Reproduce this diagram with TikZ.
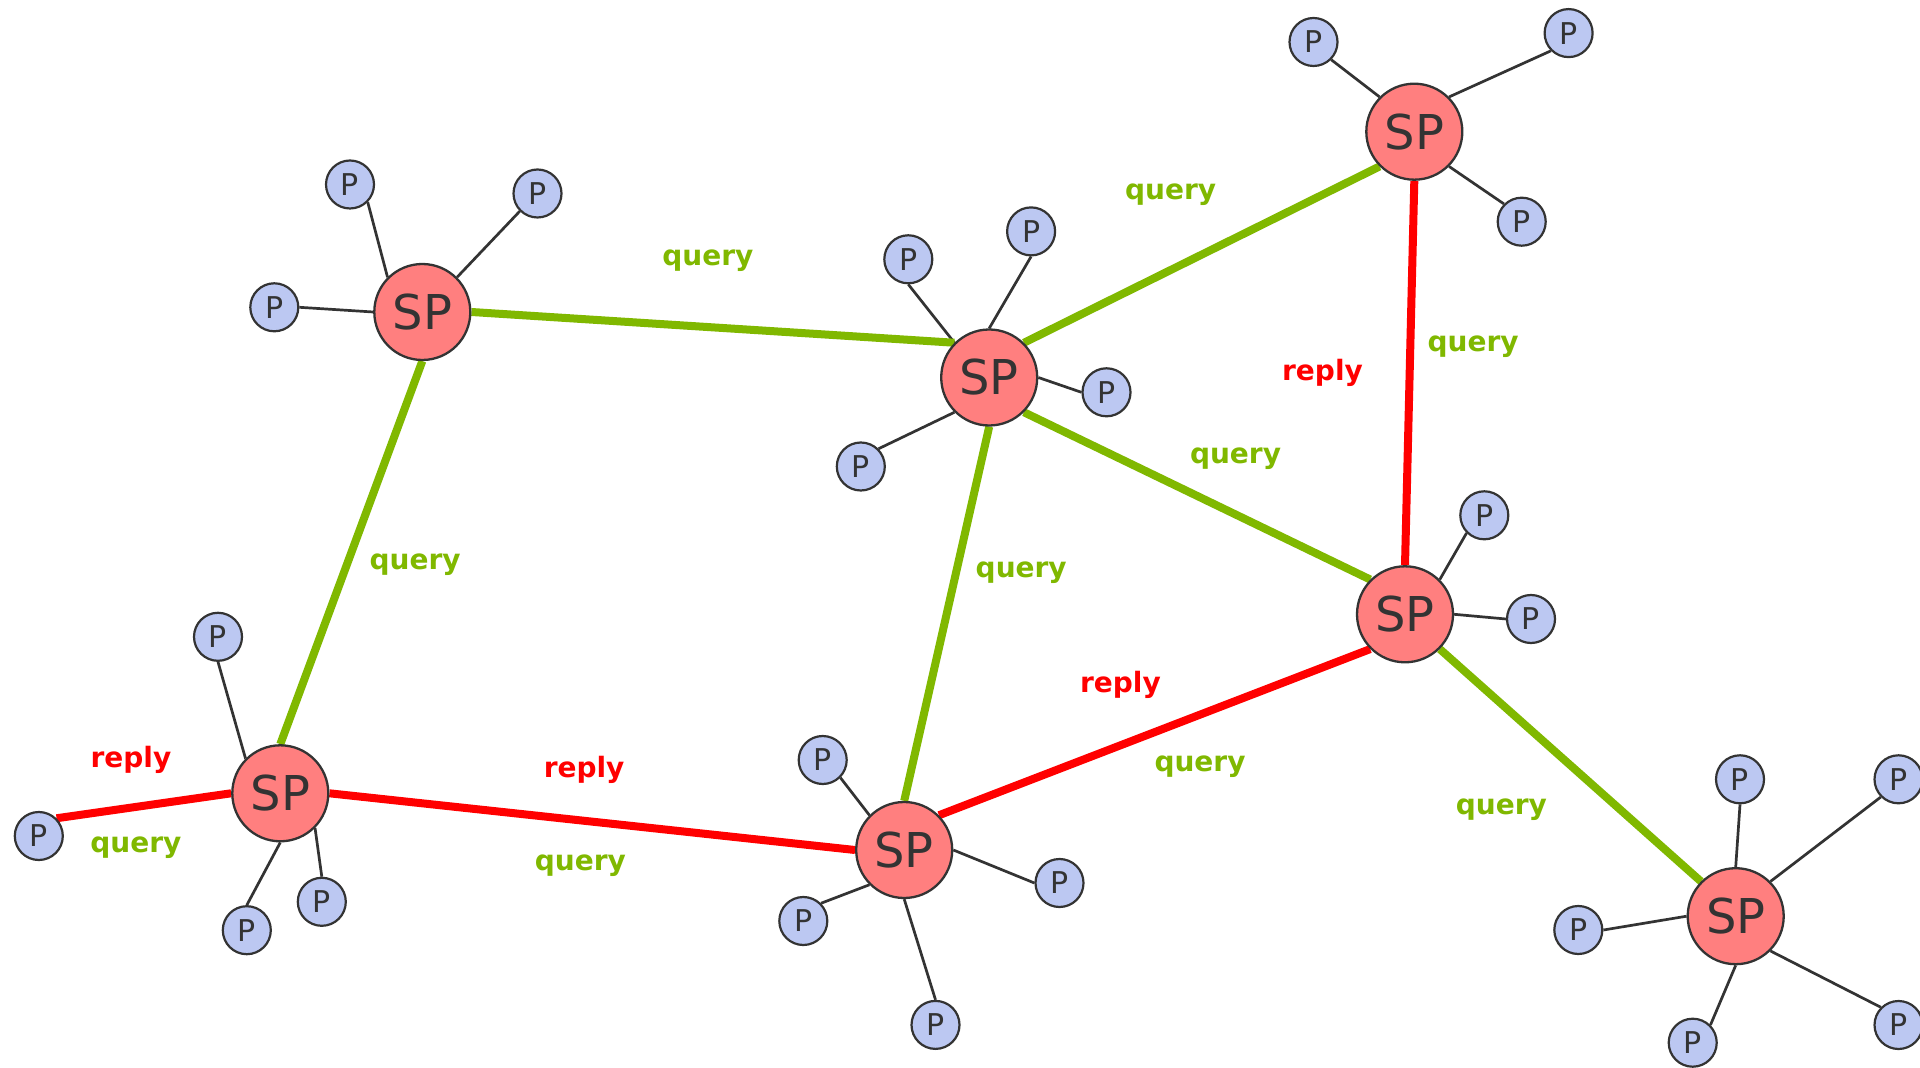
\documentclass[tikz,border=0pt]{standalone}
\usepackage{fontspec}
\setmainfont{DejaVu Sans}
\usetikzlibrary{backgrounds}
\definecolor{spfill}{HTML}{FF7F7F}
\definecolor{pfill}{HTML}{BCC8F2}
\definecolor{ink}{HTML}{333333}
\definecolor{qgreen}{HTML}{80B800}
\definecolor{rred}{HTML}{FF0000}
\tikzset{
  sp/.style={circle, draw=ink, line width=1.15pt, fill=spfill, minimum size=48pt, inner sep=0pt,
    text=ink, font=\fontsize{24}{28}\selectfont},
  peer/.style={circle, draw=ink, line width=1.1pt, fill=pfill, minimum size=24pt, inner sep=0pt,
    text=ink, font=\fontsize{15}{18}\selectfont},
  spoke/.style={draw=ink, line width=1.35pt},
  qline/.style={draw=qgreen, line width=4pt},
  rline/.style={draw=rred, line width=4pt},
  qlab/.style={text=qgreen, font=\bfseries\fontsize{14}{16}\selectfont},
  rlab/.style={text=rred, font=\bfseries\fontsize{14}{16}\selectfont}
}
\begin{document}
\begin{tikzpicture}[x=0.5pt, y=-0.5pt]
\path[use as bounding box] (0,0) rectangle (1920,1068);

% super peers
\node[sp] (s1) at (422.3,312) {SP};
\node[sp] (s2) at (989.2,377.5) {SP};
\node[sp] (s3) at (1414.3,131.7) {SP};
\node[sp] (s4) at (1405,614.3) {SP};
\node[sp] (s5) at (280.3,793.3) {SP};
\node[sp] (s6) at (904.2,850) {SP};
\node[sp] (s7) at (1735.7,916.2) {SP};

% peers
\node[peer] (p11) at (350,184.5) {P};
\node[peer] (p12) at (537.5,193.5) {P};
\node[peer] (p13) at (274.3,307.3) {P};
\node[peer] (p21) at (908.3,259.3) {P};
\node[peer] (p22) at (1031.1,231.4) {P};
\node[peer] (p23) at (1106.5,392.3) {P};
\node[peer] (p24) at (860.8,466.5) {P};
\node[peer] (p31) at (1313.5,42) {P};
\node[peer] (p32) at (1568.6,33.1) {P};
\node[peer] (p33) at (1521.7,221.7) {P};
\node[peer] (p41) at (1484.3,515.3) {P};
\node[peer] (p42) at (1531,619) {P};
\node[peer] (p51) at (218,636.8) {P};
\node[peer] (p52) at (38.8,836) {P};
\node[peer] (p53) at (246.8,930.2) {P};
\node[peer] (p54) at (321.8,901.8) {P};
\node[peer] (p61) at (822.7,760) {P};
\node[peer] (p62) at (1059.5,883) {P};
\node[peer] (p63) at (803.3,921) {P};
\node[peer] (p64) at (935.5,1024.9) {P};
\node[peer] (p71) at (1740,779.3) {P};
\node[peer] (p72) at (1898.5,779.3) {P};
\node[peer] (p73) at (1578.3,930) {P};
\node[peer] (p74) at (1692.7,1042.7) {P};
\node[peer] (p75) at (1898.5,1025) {P};

\begin{pgfonlayer}{background}
\fill[white] (0,0) rectangle (1920,1068);

% peer links
\foreach \a/\b in {s1.north west/p11.south east, s1.north east/p12.south west, s1.west/p13.east,
    s2.north west/p21.south, s2.north/p22.south, s2.east/p23.west, s2.south west/p24.north east,
    s3.north west/p31.south east, s3.north east/p32.south west, s3.south east/p33.north west,
    s4.north east/p41.south west, s4.east/p42.west,
    s5.north west/p51.south, s5.south/p53.north, s5.south east/p54.north,
    s6.north west/p61.south east, s6.east/p62.west, s6.south west/p63.north east, s6.south/p64.north,
    s7.north/p71.south, s7.north east/p72.south west, s7.west/p73.east,
    s7.south/p74.north east, s7.south east/p75.north west}
  \draw[spoke] (\a) -- (\b);

% query paths
\draw[qline] (s1.east) -- (s2.north west);
\draw[qline] (s1.south) -- (s5.north);
\draw[qline] (s2.north east) -- (s3.south west);
\draw[qline] (s2.south east) -- (s4.north west);
\draw[qline] (s2.south) -- (s6.north);
\draw[qline] (s4.south east) -- (s7.north west);

% reply paths
\draw[rline] (s3.south) -- (s4.north);
\draw[rline] (s4.south west) -- (s6.north east);
\draw[rline] (s6.west) -- (s5.east);
\draw[rline] (s5.west) -- (p52.north east);
\end{pgfonlayer}

% labels
\node[qlab] (q1) at (707.8,261) {query};
\node[qlab] (q2) at (1170.6,195) {query};
\node[rlab] (r1) at (1322.5,373) {reply};
\node[qlab] (q3) at (1473.1,347) {query};
\node[qlab] (q4) at (1235.5,459) {query};
\node[qlab] (q5) at (415.1,564.5) {query};
\node[qlab] (q6) at (1021.2,573) {query};
\node[rlab] (r2) at (1120.4,685) {reply};
\node[qlab] (q7) at (1200,766.5) {query};
\node[qlab] (q8) at (1501.3,809.5) {query};
\node[rlab] (r3) at (131,760) {reply};
\node[qlab] (q9) at (135.9,847.5) {query};
\node[rlab] (r4) at (584.1,769.5) {reply};
\node[qlab] (q10) at (580.4,865.8) {query};
\end{tikzpicture}
\end{document}
